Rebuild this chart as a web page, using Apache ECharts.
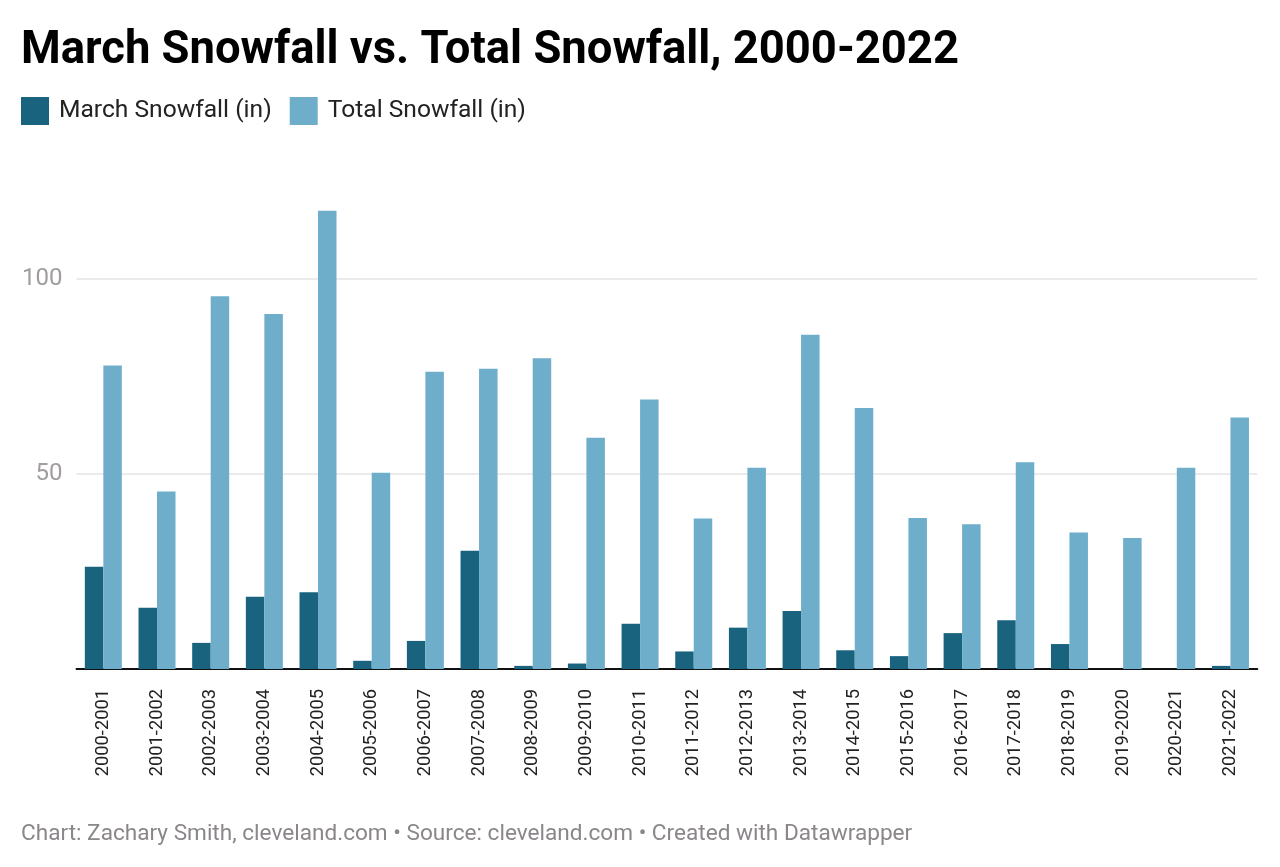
<!DOCTYPE html>
<html>
<head>
<meta charset="utf-8">
<script src="https://cdn.jsdelivr.net/npm/echarts@6/dist/echarts.min.js"></script>
<style>
html,body{margin:0;padding:0;background:#fff;}
#c{width:1280px;height:867px;}
</style>
</head>
<body>
<div id="c"></div>
<script>
const seasons = ['2000-2001','2001-2002','2002-2003','2003-2004','2004-2005','2005-2006','2006-2007','2007-2008','2008-2009','2009-2010','2010-2011','2011-2012','2012-2013','2013-2014','2014-2015','2015-2016','2016-2017','2017-2018','2018-2019','2019-2020','2020-2021','2021-2022'];
const marchSnowfall = [26.2,15.7,6.7,18.5,19.7,2.1,7.2,30.3,0.8,1.4,11.6,4.5,10.6,14.9,4.8,3.3,9.2,12.5,6.4,0,0,0.8];
const totalSnowfall = [77.8,45.5,95.6,91.0,117.5,50.3,76.2,77.0,79.7,59.3,69.1,38.6,51.6,85.7,66.9,38.7,37.1,53.0,35.0,33.6,51.6,64.5];
const yTicks = [50, 100];

const chart = echarts.init(document.getElementById('c'), null, {renderer:'canvas'});
const FONT = 'Roboto';
chart.setOption({
  backgroundColor:'#ffffff',
  animation:false,
  title:[
    {text:'March Snowfall vs. Total Snowfall, 2000-2022', left:16, top:24, padding:[5,5,5,5],
     textStyle:{fontFamily:FONT, fontWeight:'bold', fontSize:45.4, color:'#000'}},
    {text:'Chart: Zachary Smith, cleveland.com • Source: cleveland.com • Created with Datawrapper', left:16, top:818, padding:[5,5,5,5],
     textStyle:{fontFamily:FONT, fontWeight:'normal', fontSize:22.6, color:'#8a868a'}}
  ],
  legend:{
    left:21, top:97, padding:0, itemWidth:28, itemHeight:28, itemGap:18, icon:'rect',
    textStyle:{fontFamily:FONT, fontSize:24.6, color:'#222', padding:[0,0,0,5]},
    data:['March Snowfall (in)','Total Snowfall (in)']
  },
  grid:{left:76.5, right:22.7, top:201, bottom:198, containLabel:false},
  xAxis:{
    type:'category', data:seasons,
    axisLine:{lineStyle:{color:'#111', width:2}},
    axisTick:{show:false},
    axisLabel:{rotate:90, margin:20, fontFamily:FONT, fontSize:18.3, color:'#222', interval:0}
  },
  yAxis:{
    type:'value', min:0, max:120, interval:50,
    axisLine:{show:false}, axisTick:{show:false},
    splitLine:{show:false},
    axisLabel:{margin:14, fontFamily:FONT, fontSize:24, color:'#a09ca0',
      formatter:function(v){return yTicks.indexOf(v)>=0 ? String(v) : '';}}
  },
  series:[
    {name:'March Snowfall (in)', type:'bar', data:marchSnowfall, barWidth:18.5, barGap:'0%',
     itemStyle:{color:'#19637f'}, z:3},
    {name:'Total Snowfall (in)', type:'bar', data:totalSnowfall, barWidth:18.5, barGap:'0%',
     itemStyle:{color:'#6eaecb'}, z:3,
     markLine:{silent:true, symbol:'none', z:1, label:{show:false},
       lineStyle:{color:'#e6e4e6', width:1.5, type:'solid'},
       data:yTicks.map(function(v){return {yAxis:v};})}}
  ]
});
</script>
</body>
</html>
